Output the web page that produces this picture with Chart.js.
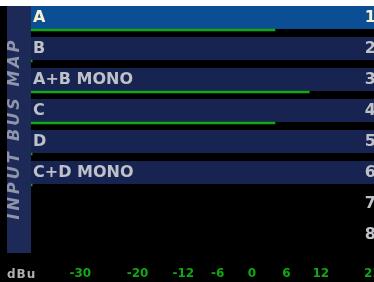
<!DOCTYPE html>
<html>
<head>
<meta charset="utf-8">
<script src="https://cdn.jsdelivr.net/npm/chart.js@4/dist/chart.umd.min.js"></script>
<style>
  html, body { margin: 0; padding: 0; background: #000; overflow: hidden; }
  canvas { display: block; }
</style>
</head>
<body>
<canvas id="c" width="374" height="282"></canvas>
<script>
// ---- data ----
const CHANNELS = ['1', '2', '3', '4', '5', '6', '7', '8'];
const INPUTS = ['A', 'B', 'A+B MONO', 'C', 'D', 'C+D MONO', '', ''];
const LEVELS_DB = [4.0, -38.4, 10.0, 4.0, -38.4, -38.4, null, null];
const DB_TICKS = [-30, -20, -12, -6, 0, 6, 12, 21];
const X_MIN = -38.6;
const X_MAX = 21.3;
const SELECTED = 0;
const PANEL_TITLE = 'INPUT BUS MAP';
const UNIT = 'dBu';

// ---- styles ----
const FONT = 'DejaVu Sans';
const C_PANEL = '#1d2956';
const C_ROW = '#172350';
const C_ROW_SEL = '#0b4e93';
const C_TEXT = '#bfc1c8';
const C_TEXT_SEL = '#f6f2d2';
const C_PANEL_TEXT = '#8f95ab';
const C_GREEN = '#12a812';

const backdrop = {
  id: 'backdrop',
  beforeDraw(chart) {
    const ctx = chart.ctx;
    const y = chart.scales.y;
    const area = chart.chartArea;
    const pitch = y.getPixelForValue(1) - y.getPixelForValue(0);
    ctx.save();
    ctx.fillStyle = '#000';
    ctx.fillRect(0, 0, chart.width, chart.height);
    ctx.fillStyle = '#fff';
    ctx.fillRect(0, 0, chart.width, 6);

    const firstTop = y.getPixelForValue(0) - 24;
    const lastBottom = y.getPixelForValue(CHANNELS.length - 1) + pitch - 24;
    // left panel
    ctx.fillStyle = C_PANEL;
    ctx.fillRect(7, firstTop, area.left - 7, lastBottom - firstTop - 1);
    ctx.save();
    ctx.translate(14.5, (firstTop + lastBottom) / 2);
    ctx.rotate(-Math.PI / 2);
    ctx.font = 'italic bold 16px "' + FONT + '"';
    ctx.letterSpacing = '3px';
    ctx.fillStyle = C_PANEL_TEXT;
    ctx.textAlign = 'center';
    ctx.textBaseline = 'middle';
    ctx.fillText(PANEL_TITLE, 1.5, 0);
    ctx.restore();

    // row bands + input names
    ctx.font = 'bold 16px "' + FONT + '"';
    ctx.textAlign = 'left';
    ctx.textBaseline = 'middle';
    INPUTS.forEach((name, i) => {
      if (!name) return;
      const top = y.getPixelForValue(i) - 24;
      ctx.fillStyle = i === SELECTED ? C_ROW_SEL : C_ROW;
      ctx.fillRect(area.left, top, area.right - area.left, 23);
      ctx.fillStyle = i === SELECTED ? C_TEXT_SEL : C_TEXT;
      ctx.fillText(name, area.left + 2, top + 12);
    });

    // unit label
    ctx.font = 'bold 12px "' + FONT + '"';
    ctx.letterSpacing = '1px';
    ctx.fillStyle = '#b0b0b0';
    ctx.fillText(UNIT, 7, 274.5);
    ctx.restore();
  }
};

new Chart(document.getElementById('c'), {
  type: 'bar',
  data: {
    labels: CHANNELS,
    datasets: [{
      data: LEVELS_DB,
      base: X_MIN,
      backgroundColor: C_GREEN,
      borderWidth: 0,
      barThickness: 2
    }]
  },
  options: {
    indexAxis: 'y',
    responsive: false,
    animation: false,
    layout: { padding: { left: 31, top: 14.5, right: 0, bottom: 0 } },
    plugins: { legend: { display: false }, tooltip: { enabled: false } },
    scales: {
      x: {
        type: 'linear',
        position: 'bottom',
        min: X_MIN,
        max: X_MAX,
        grid: { display: false, drawTicks: false },
        border: { display: false },
        ticks: {
          color: C_GREEN,
          font: { family: FONT, weight: 'bold', size: 12 },
          padding: 4.5,
          autoSkip: false,
          maxRotation: 0,
          callback: (v) => String(v)
        },
        afterBuildTicks: (s) => { s.ticks = DB_TICKS.map(v => ({ value: v })); },
        afterFit: (s) => { s.height = 19.5; s.paddingLeft = 0; s.paddingRight = 0; }
      },
      y: {
        type: 'category',
        position: 'right',
        offset: true,
        grid: { display: false, drawTicks: false },
        border: { display: false },
        ticks: {
          mirror: true,
          padding: 2,
          labelOffset: -12.5,
          autoSkip: false,
          font: { family: FONT, weight: 'bold', size: 16 },
          color: (ctx) => ctx.index === SELECTED ? C_TEXT_SEL : C_TEXT
        },
        afterFit: (s) => { s.width = 0; s.paddingTop = 0; s.paddingBottom = 0; }
      }
    }
  },
  plugins: [backdrop]
});
</script>
</body>
</html>
